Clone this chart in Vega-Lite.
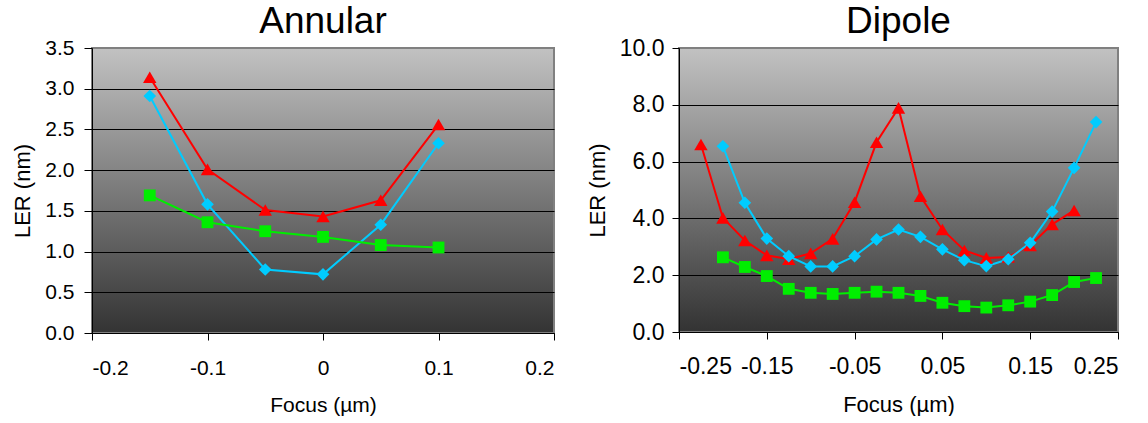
{
  "$schema": "https://vega.github.io/schema/vega-lite/v6.json",
  "background": "white",
  "padding": {"left": 10, "top": 2, "right": 4, "bottom": 0},
  "spacing": 29,
  "config": {
    "font": "Liberation Sans",
    "view": {
      "stroke": "#808080",
      "strokeWidth": 2,
      "fill": {
        "gradient": "linear", "x1": 0, "y1": 0, "x2": 0, "y2": 1,
        "stops": [{"offset": 0, "color": "#c2c2c2"}, {"offset": 1, "color": "#333333"}]
      }
    },
    "axis": {
      "domainColor": "black", "domainWidth": 1,
      "tickColor": "black", "tickWidth": 1,
      "labelColor": "black", "titleColor": "black",
      "titleFontWeight": "normal", "labelFont": "Liberation Sans", "titleFont": "Liberation Sans"
    },
    "title": {"fontSize": 37, "fontWeight": "normal", "frame": "group", "color": "black", "font": "Liberation Sans"}
  },
  "datasets": {
    "annular": [
      {"focus": -0.15, "series": "S1", "ler": 3.14},
      {"focus": -0.1, "series": "S1", "ler": 2.01},
      {"focus": -0.05, "series": "S1", "ler": 1.51},
      {"focus": 0, "series": "S1", "ler": 1.43},
      {"focus": 0.05, "series": "S1", "ler": 1.63},
      {"focus": 0.1, "series": "S1", "ler": 2.56},
      {"focus": -0.15, "series": "S2", "ler": 2.91},
      {"focus": -0.1, "series": "S2", "ler": 1.58},
      {"focus": -0.05, "series": "S2", "ler": 0.78},
      {"focus": 0, "series": "S2", "ler": 0.72},
      {"focus": 0.05, "series": "S2", "ler": 1.33},
      {"focus": 0.1, "series": "S2", "ler": 2.33},
      {"focus": -0.15, "series": "S3", "ler": 1.69},
      {"focus": -0.1, "series": "S3", "ler": 1.36},
      {"focus": -0.05, "series": "S3", "ler": 1.25},
      {"focus": 0, "series": "S3", "ler": 1.18},
      {"focus": 0.05, "series": "S3", "ler": 1.08},
      {"focus": 0.1, "series": "S3", "ler": 1.05}
    ],
    "dipole": [
      {"focus": -0.225, "series": "S1", "ler": 6.6},
      {"focus": -0.2, "series": "S1", "ler": 4.02},
      {"focus": -0.175, "series": "S1", "ler": 3.22},
      {"focus": -0.15, "series": "S1", "ler": 2.7},
      {"focus": -0.125, "series": "S1", "ler": 2.56},
      {"focus": -0.1, "series": "S1", "ler": 2.77},
      {"focus": -0.075, "series": "S1", "ler": 3.28},
      {"focus": -0.05, "series": "S1", "ler": 4.57},
      {"focus": -0.025, "series": "S1", "ler": 6.68},
      {"focus": 0, "series": "S1", "ler": 7.89},
      {"focus": 0.025, "series": "S1", "ler": 4.78},
      {"focus": 0.05, "series": "S1", "ler": 3.61},
      {"focus": 0.075, "series": "S1", "ler": 2.87},
      {"focus": 0.1, "series": "S1", "ler": 2.61},
      {"focus": 0.125, "series": "S1", "ler": 2.64},
      {"focus": 0.15, "series": "S1", "ler": 3.05},
      {"focus": 0.175, "series": "S1", "ler": 3.79},
      {"focus": 0.2, "series": "S1", "ler": 4.28},
      {"focus": -0.2, "series": "S2", "ler": 6.54},
      {"focus": -0.175, "series": "S2", "ler": 4.55},
      {"focus": -0.15, "series": "S2", "ler": 3.29},
      {"focus": -0.125, "series": "S2", "ler": 2.67},
      {"focus": -0.1, "series": "S2", "ler": 2.31},
      {"focus": -0.075, "series": "S2", "ler": 2.31},
      {"focus": -0.05, "series": "S2", "ler": 2.67},
      {"focus": -0.025, "series": "S2", "ler": 3.26},
      {"focus": 0, "series": "S2", "ler": 3.61},
      {"focus": 0.025, "series": "S2", "ler": 3.35},
      {"focus": 0.05, "series": "S2", "ler": 2.91},
      {"focus": 0.075, "series": "S2", "ler": 2.53},
      {"focus": 0.1, "series": "S2", "ler": 2.32},
      {"focus": 0.125, "series": "S2", "ler": 2.56},
      {"focus": 0.15, "series": "S2", "ler": 3.14},
      {"focus": 0.175, "series": "S2", "ler": 4.24},
      {"focus": 0.2, "series": "S2", "ler": 5.78},
      {"focus": 0.225, "series": "S2", "ler": 7.39},
      {"focus": -0.2, "series": "S3", "ler": 2.63},
      {"focus": -0.175, "series": "S3", "ler": 2.29},
      {"focus": -0.15, "series": "S3", "ler": 1.97},
      {"focus": -0.125, "series": "S3", "ler": 1.52},
      {"focus": -0.1, "series": "S3", "ler": 1.38},
      {"focus": -0.075, "series": "S3", "ler": 1.34},
      {"focus": -0.05, "series": "S3", "ler": 1.38},
      {"focus": -0.025, "series": "S3", "ler": 1.42},
      {"focus": 0, "series": "S3", "ler": 1.38},
      {"focus": 0.025, "series": "S3", "ler": 1.27},
      {"focus": 0.05, "series": "S3", "ler": 1.03},
      {"focus": 0.075, "series": "S3", "ler": 0.91},
      {"focus": 0.1, "series": "S3", "ler": 0.86},
      {"focus": 0.125, "series": "S3", "ler": 0.94},
      {"focus": 0.15, "series": "S3", "ler": 1.07},
      {"focus": 0.175, "series": "S3", "ler": 1.3},
      {"focus": 0.2, "series": "S3", "ler": 1.76},
      {"focus": 0.225, "series": "S3", "ler": 1.9}
    ]
  },
  "hconcat": [
    {
      "title": {"text": "Annular", "offset": -4},
      "width": 462,
      "height": 285,
      "data": {"name": "annular"},
      "encoding": {
        "x": {
          "field": "focus", "type": "quantitative",
          "scale": {"domain": [-0.2, 0.2], "nice": false, "zero": false},
          "axis": {
            "values": [-0.2, -0.1, 0, 0.1, 0.2],
            "labelExpr": "datum.value < 0 ? '-' + format(-datum.value, '.1f') : (datum.value == 0 ? '0' : format(datum.value, '.1f'))",
            "title": "Focus (µm)", "grid": false,
            "labelFontSize": 21, "titleFontSize": 21,
            "tickSize": 7, "labelPadding": 17, "titlePadding": 16
          }
        },
        "y": {
          "field": "ler", "type": "quantitative",
          "scale": {"domain": [0, 3.5], "nice": false},
          "axis": {
            "values": [0, 0.5, 1, 1.5, 2, 2.5, 3, 3.5],
            "format": ".1f",
            "title": "LER (nm)",
            "labelFontSize": 21, "titleFontSize": 22,
            "tickSize": 8, "labelPadding": 10, "titlePadding": 10,
            "grid": true,
            "gridColor": {"condition": {"test": "datum.value >= 3.5", "value": "#808080"}, "value": "black"}
          }
        },
        "color": {
          "field": "series", "type": "nominal",
          "scale": {"domain": ["S1", "S2", "S3"], "range": ["#ff0000", "#00ccff", "#00ee00"]},
          "legend": null
        }
      },
      "layer": [
        {"mark": {"type": "line", "strokeWidth": 2}},
        {
          "mark": {"type": "point", "filled": true, "opacity": 1},
          "encoding": {
            "shape": {
              "field": "series", "type": "nominal",
              "scale": {"domain": ["S1", "S2", "S3"], "range": ["triangle-up", "diamond", "square"]},
              "legend": null
            },
            "size": {
              "field": "series", "type": "nominal",
              "scale": {"domain": ["S1", "S2", "S3"], "range": [180, 140, 125]},
              "legend": null
            }
          }
        }
      ]
    },
    {
      "title": {"text": "Dipole", "offset": -4},
      "width": 439,
      "height": 284,
      "data": {"name": "dipole"},
      "encoding": {
        "x": {
          "field": "focus", "type": "quantitative",
          "scale": {"domain": [-0.25, 0.25], "nice": false, "zero": false},
          "axis": {
            "values": [-0.25, -0.15, -0.05, 0.05, 0.15, 0.25],
            "labelExpr": "datum.value < 0 ? '-' + format(-datum.value, '.2f') : format(datum.value, '.2f')",
            "title": "Focus (µm)", "grid": false,
            "labelFontSize": 23, "titleFontSize": 22,
            "tickSize": 7, "labelPadding": 16, "titlePadding": 16
          }
        },
        "y": {
          "field": "ler", "type": "quantitative",
          "scale": {"domain": [0, 10], "nice": false},
          "axis": {
            "values": [0, 2, 4, 6, 8, 10],
            "format": ".1f",
            "title": "LER (nm)",
            "labelFontSize": 23, "titleFontSize": 22,
            "tickSize": 7, "labelPadding": 8, "titlePadding": 10,
            "grid": true,
            "gridColor": {"condition": {"test": "datum.value >= 10", "value": "#808080"}, "value": "black"}
          }
        },
        "color": {
          "field": "series", "type": "nominal",
          "scale": {"domain": ["S1", "S2", "S3"], "range": ["#ff0000", "#00ccff", "#00ee00"]},
          "legend": null
        }
      },
      "layer": [
        {"mark": {"type": "line", "strokeWidth": 2}},
        {
          "mark": {"type": "point", "filled": true, "opacity": 1},
          "encoding": {
            "shape": {
              "field": "series", "type": "nominal",
              "scale": {"domain": ["S1", "S2", "S3"], "range": ["triangle-up", "diamond", "square"]},
              "legend": null
            },
            "size": {
              "field": "series", "type": "nominal",
              "scale": {"domain": ["S1", "S2", "S3"], "range": [170, 130, 120]},
              "legend": null
            }
          }
        }
      ]
    }
  ]
}
